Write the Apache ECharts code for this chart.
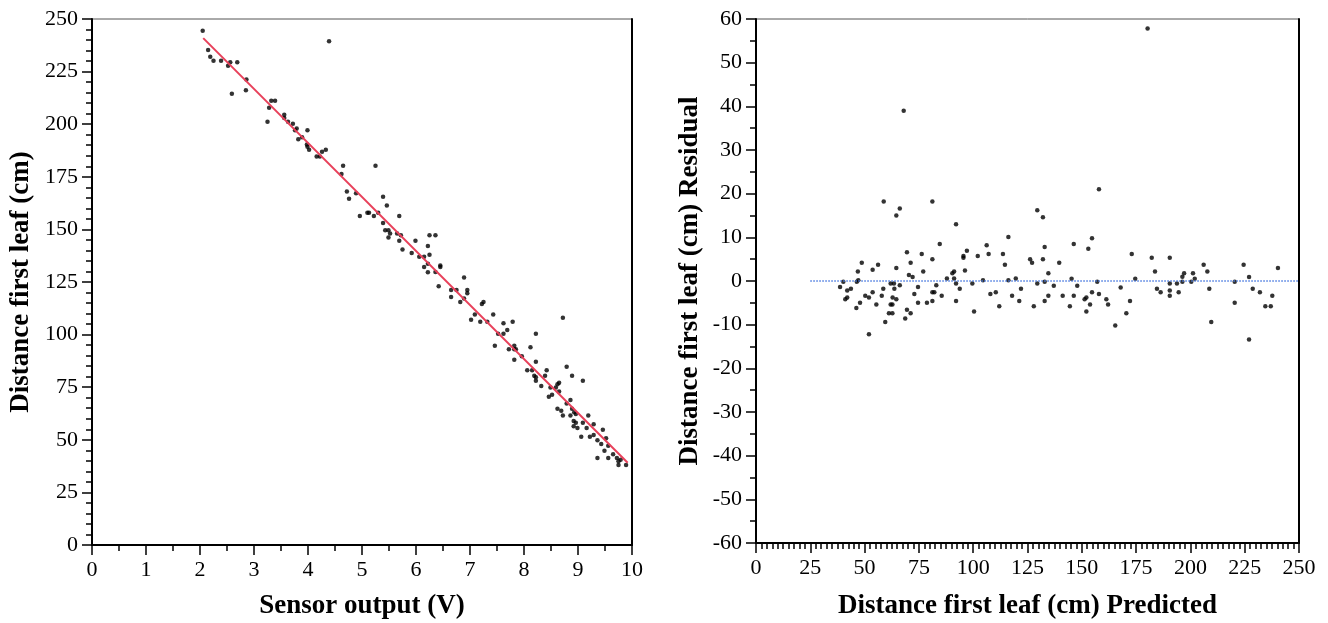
<!DOCTYPE html>
<html>
<head>
<meta charset="utf-8">
<script src="https://cdn.jsdelivr.net/npm/echarts@6/dist/echarts.min.js"></script>
<style>
html,body{margin:0;padding:0;background:#fff;}
#chart{width:1328px;height:623px;}
</style>
</head>
<body>
<div id="chart"></div>
<script>
// ---- Left panel: Distance first leaf vs sensor output ----
var sensorX = [2.05,2.15,2.19,2.25,2.39,2.52,2.56,2.69,2.59,2.86,2.85,4.39,3.25,3.28,3.32,3.39,3.56,3.56,3.63,3.72,3.76,3.79,3.99,3.82,3.89,3.98,3.99,4.02,4.16,4.22,4.26,4.33,4.65,4.62,5.25,4.72,4.76,4.89,5.39,5.46,4.96,5.10,5.13,5.22,5.30,5.69,5.39,5.43,5.49,5.52,5.49,5.65,5.69,
5.72,5.75,5.92,5.99,6.06,6.15,6.15,6.22,6.25,6.22,6.22,6.25,6.36,6.36,6.45,6.45,6.42,6.65,6.65,6.75,6.82,6.89,6.89,6.95,6.95,7.02,7.09,7.19,7.22,7.25,7.32,7.43,7.46,7.52,7.62,7.62,7.69,7.79,7.72,7.82,7.82,7.85,7.82,7.96,8.12,8.22,8.72,8.06,8.15,8.22,8.19,8.22,8.22,8.32,8.39,8.42,8.49,8.46,8.52,8.59,8.62,8.65,8.65,8.79,8.89,9.09,8.62,8.69,8.72,8.79,8.86,8.89,8.93,8.96,8.86,8.92,8.96,8.92,8.99,9.06,9.09,9.16,9.19,9.22,9.29,9.29,9.36,9.36,9.43,9.46,9.49,9.52,9.56,9.56,9.65,9.72,9.75,9.75,9.79,9.89];
var distanceY = [244.4,235.3,232.1,230.2,230.2,227.8,229.4,229.4,214.5,221.2,216.1,239.4,201.2,207.8,211.2,211.2,204.5,202.9,201.2,200.2,197.1,197.9,197.1,192.8,193.8,190.3,189.3,187.9,184.6,184.6,186.9,187.9,180.3,176.3,180.3,168.0,164.6,167.2,165.5,161.3,156.4,157.9,157.9,156.4,157.9,156.4,153.0,149.6,149.6,148.0,146.2,148.0,144.6,
147.2,140.5,138.8,144.6,137.0,137.0,132.1,142.1,138.0,133.7,129.6,147.2,147.2,129.8,132.9,132.1,123.0,121.2,117.9,121.2,115.5,127.1,117.1,121.2,119.6,107.1,109.6,106.1,114.5,115.5,106.1,109.6,94.7,100.4,105.4,100.4,102.2,106.1,93.0,94.7,93.0,93.0,88.1,89.7,94.0,100.4,108.0,83.0,83.0,87.1,80.5,79.7,78.1,75.6,80.5,83.0,74.8,70.5,71.4,74.8,76.4,77.1,72.9,84.7,80.5,78.1,64.8,63.8,61.5,67.3,68.9,64.8,63.1,62.3,61.5,58.9,58.1,56.4,55.6,51.5,58.1,55.6,61.5,51.5,52.3,57.4,41.3,49.8,48.0,54.8,44.8,50.7,47.2,41.3,43.1,41.3,39.8,38.0,40.5,38.0];
// fitted line end points
var fitX = [2.06, 9.92];
var fitY = [240.9, 39.1];

// ---- Right panel: residual vs predicted ----
var predictedX = [38.7,40.2,42.0,43.7,41.1,42.0,46.2,47.9,46.4,47.1,46.9,48.7,50.3,52.0,52.0,53.7,53.7,56.2,55.4,57.9,58.6,58.8,59.5,61.2,62.0,62.0,62.8,62.8,62.9,63.5,63.7,64.6,64.6,64.6,66.2,66.2,68.0,68.7,69.5,69.5,70.4,71.2,71.2,72.1,72.9,74.6,74.6,76.3,77.0,78.7,81.2,81.2,81.2,81.2,82.1,83.0,84.6,85.5,87.9,90.4,91.2,91.2,92.1,92.1,92.1,93.8,95.5,95.5,96.2,97.1,99.6,100.4,102.1,104.5,106.2,107.1,107.9,110.4,112.0,113.7,114.6,116.2,116.2,117.9,119.6,121.2,122.0,126.2,127.1,127.9,129.5,129.5,132.1,132.9,132.1,134.6,132.9,132.9,134.6,137.1,139.6,141.2,144.5,145.3,146.3,146.3,147.9,151.3,152.1,152.1,153.0,153.8,154.7,154.7,157.1,157.9,157.9,161.3,162.1,165.4,167.9,170.5,172.2,173.0,174.6,180.3,182.2,183.7,184.6,186.3,190.5,190.5,190.5,190.5,193.8,194.6,196.3,196.3,197.1,200.4,201.2,202.0,206.1,207.8,208.7,209.6,220.4,220.4,224.5,227.0,227.0,228.7,232.0,234.5,237.0,237.7,240.3];
var residualY = [-1.4,-0.2,-2.2,-1.8,-4.2,-3.8,-6.2,-5.0,-0.2,0.2,2.2,4.2,-3.4,-3.8,-12.2,-2.6,2.6,3.7,-5.4,-3.4,-1.8,18.2,-9.4,-7.4,-0.6,-5.4,-5.4,-7.4,-3.8,-0.6,-1.8,15.0,-4.2,3.0,16.6,-1.0,39.0,-8.6,-6.6,6.6,1.4,-7.4,4.2,0.9,-3.0,-1.4,-5.0,6.2,2.2,-5.0,18.2,5.0,-2.6,-4.6,-2.6,-1.0,8.5,-3.4,0.6,1.8,2.2,0.6,-0.6,-4.6,13.0,-1.8,5.7,5.3,2.4,6.9,-0.6,-7.0,5.7,0.2,8.2,6.2,-3.0,-2.6,-5.8,6.2,3.7,10.1,0.2,-3.4,0.6,-4.6,-1.8,5.0,4.2,-5.8,16.2,-0.6,14.6,7.8,5.0,1.8,-0.2,-4.6,-3.4,-1.1,4.2,-3.4,-5.8,0.5,8.5,-3.4,-1.1,-4.2,-3.8,-7.0,7.4,-5.4,9.8,-2.6,-0.2,-3.0,21.0,-4.2,-5.4,-10.2,-1.5,-7.4,-4.6,6.2,0.5,57.8,5.3,2.2,-1.8,-2.6,5.3,-0.6,-2.2,-3.4,-0.6,-2.6,-0.2,1.0,1.8,-0.2,1.8,0.5,3.7,2.2,-1.8,-9.4,-0.2,-5.0,3.7,0.9,-13.4,-1.8,-2.6,-5.8,-5.8,-3.4,3.0];
var zeroX = [25, 250];
var zeroY = [0, 0];

function zip(a, b) { return a.map(function (v, i) { return [v, b[i]]; }); }

var serif = 'Liberation Serif';
var labelStyle = { fontFamily: serif, fontSize: 22, color: '#000', margin: 14 };
var nameStyle = { fontFamily: serif, fontSize: 27, fontWeight: 'bold', color: '#000' };

function mainAxis(opts) {
  var base = {
    type: 'value',
    axisLine: { show: true, onZero: false, lineStyle: { color: '#000', width: 2 } },
    axisTick: { show: true, length: 10, lineStyle: { color: '#000', width: 1.5 } },
    splitLine: { show: false },
    axisLabel: labelStyle,
    nameLocation: 'middle',
    nameTextStyle: nameStyle
  };
  for (var k in opts) base[k] = opts[k];
  return base;
}
function minor(n) {
  return { show: true, splitNumber: n, length: 6, lineStyle: { color: '#000', width: 1.5 } };
}
function borderAxis(opts) {
  var base = {
    type: 'value',
    axisLine: { show: true, onZero: false, lineStyle: { color: '#000', width: 2 } },
    axisTick: { show: false }, axisLabel: { show: false }, splitLine: { show: false }
  };
  for (var k in opts) base[k] = opts[k];
  return base;
}

var chart = echarts.init(document.getElementById('chart'), null, { renderer: 'canvas' });
chart.setOption({
  animation: false,
  backgroundColor: '#fff',
  grid: [
    { left: 92, top: 19, width: 540, height: 526, show: true, borderColor: '#555', borderWidth: 1, containLabel: false, outerBoundsMode: 'none' },
    { left: 756, top: 19, width: 543, height: 524, show: true, borderColor: '#555', borderWidth: 1, containLabel: false, outerBoundsMode: 'none' }
  ],
  xAxis: [
    mainAxis({ gridIndex: 0, min: 0, max: 10, interval: 1, minorTick: minor(2), name: 'Sensor output (V)', nameGap: 48 }),
    mainAxis({ gridIndex: 1, min: 0, max: 250, interval: 25, minorTick: minor(10), name: 'Distance first leaf (cm) Predicted', nameGap: 50 })
  ],
  yAxis: [
    mainAxis({ gridIndex: 0, min: 0, max: 250, interval: 25, minorTick: minor(5), name: 'Distance first leaf (cm)', nameGap: 57 }),
    mainAxis({ gridIndex: 1, min: -60, max: 60, interval: 10, minorTick: minor(2), name: 'Distance first leaf (cm) Residual', nameGap: 52 }),
    borderAxis({ gridIndex: 0, position: 'right', min: 0, max: 250 }),
    borderAxis({ gridIndex: 1, position: 'right', min: -60, max: 60 })
  ],
  series: [
    {
      type: 'scatter', xAxisIndex: 0, yAxisIndex: 0,
      data: zip(sensorX, distanceY),
      symbol: 'circle', symbolSize: 4.5,
      itemStyle: { color: '#000' }
    },
    {
      type: 'line', xAxisIndex: 0, yAxisIndex: 0,
      data: zip(fitX, fitY),
      symbol: 'none',
      lineStyle: { color: '#e8405a', width: 2 }
    },
    {
      type: 'line', xAxisIndex: 1, yAxisIndex: 1,
      data: zip(zeroX, zeroY),
      symbol: 'none',
      lineStyle: { color: '#4a7be0', width: 1.5, type: [1.5, 1.5] }
    },
    {
      type: 'scatter', xAxisIndex: 1, yAxisIndex: 1,
      data: zip(predictedX, residualY),
      symbol: 'circle', symbolSize: 4.5,
      itemStyle: { color: '#000' }
    }
  ]
});
</script>
</body>
</html>
